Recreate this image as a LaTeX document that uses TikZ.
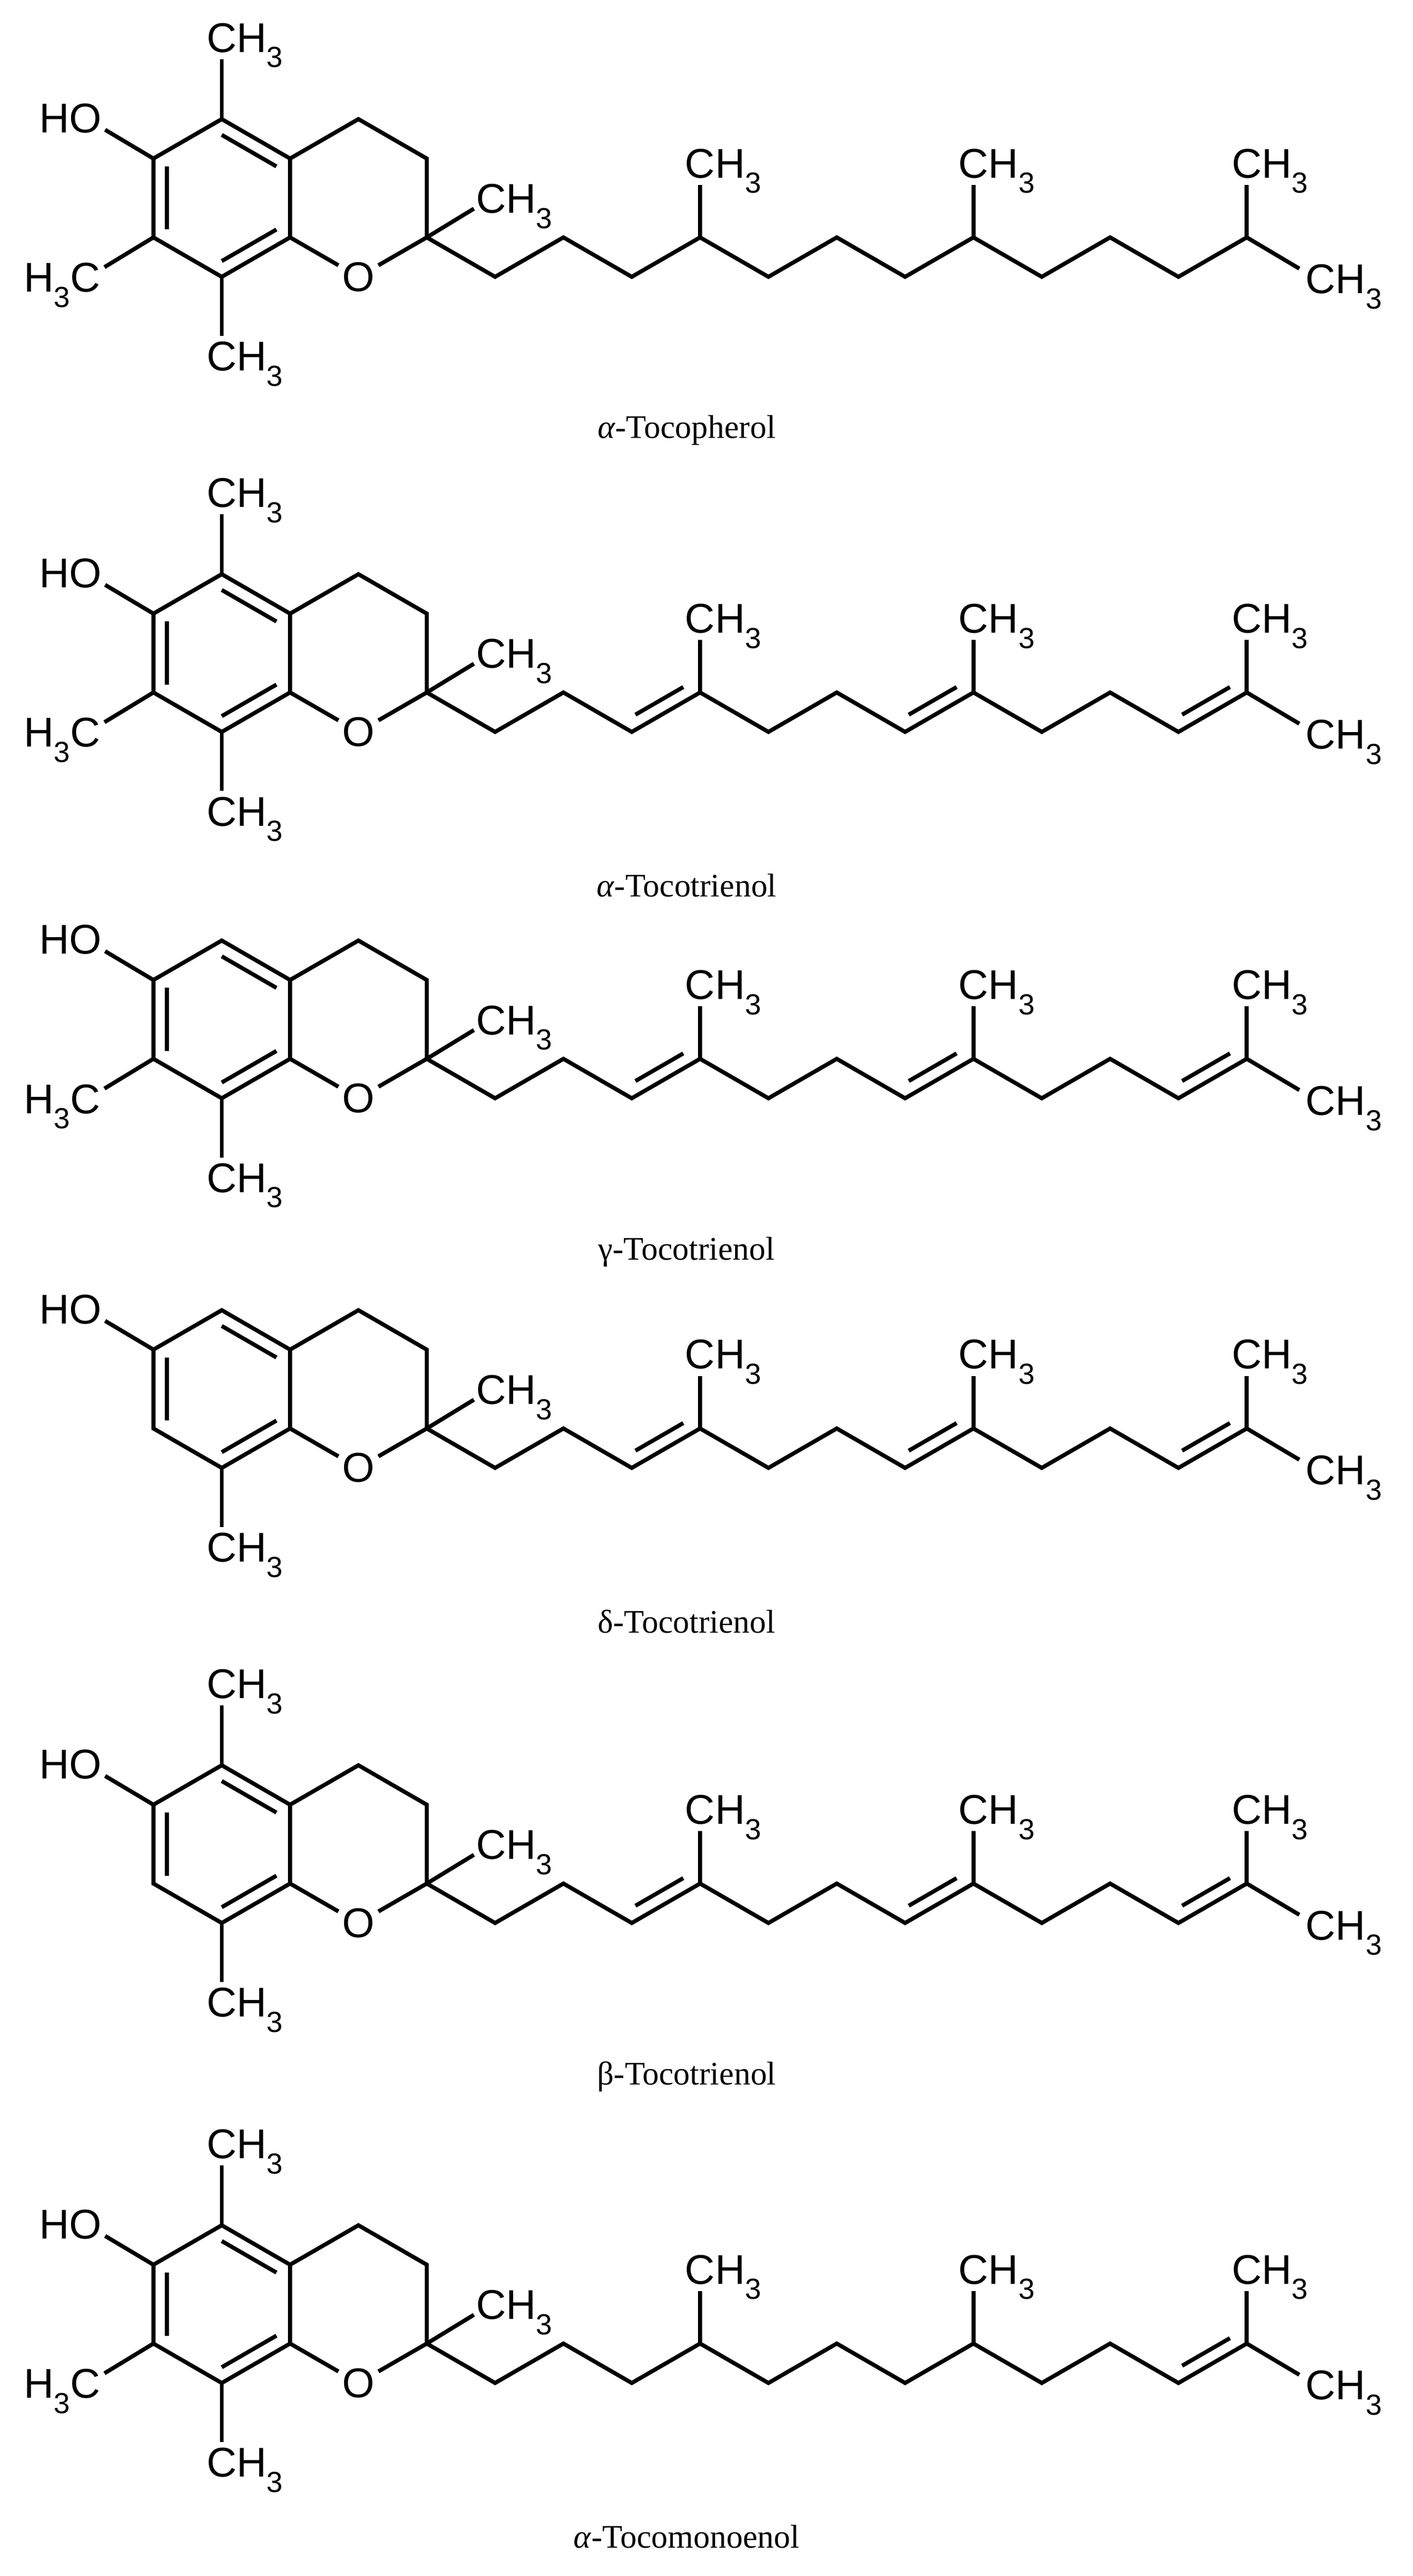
\documentclass[tikz,border=0pt]{standalone}
\usepackage{fontspec}
\setmainfont{Liberation Serif}
\newfontfamily\labfont{Liberation Sans}
\usetikzlibrary{calc}
\newcommand\CHc{\hphantom{H\textsubscript{3}}CH\smash{\textsubscript{3}}}
\newcommand\HCc{H\smash{\textsubscript{3}}C\hphantom{H\textsubscript{3}}}
\tikzset{
  bond/.style={line width=7pt, line join=miter, line cap=butt},
  atom/.style={font=\labfont\fontsize{72}{84}\selectfont, inner sep=0pt},
  oatom/.style={atom, circle, minimum size=2.8cm},
  capt/.style={font=\fontsize{57}{62}\selectfont, inner sep=0pt}
}
\newcommand\tocoring[1]{%
 \coordinate (ca#1) at (135,120.5);
 \coordinate (c5#1) at (135,72.5);
 \coordinate (c4a#1) at (176.6,96.5);
 \coordinate (c8a#1) at (176.6,144.5);
 \coordinate (c8#1) at (135,168.5);
 \coordinate (c7#1) at (93.4,144.5);
 \coordinate (c6#1) at (93.4,96.5);
 \coordinate (c4#1) at (218.2,72.5);
 \coordinate (c3#1) at (259.8,96.5);
 \coordinate (c2#1) at (259.8,144.5);
 \node[oatom] (o#1) at (218.2,168.5) {O};
 \draw[bond] (c6#1)--(c5#1)--(c4a#1)--(c8a#1)--(c8#1)--(c7#1)--cycle;
 \draw[bond] (c4a#1)--(c4#1)--(c3#1)--(c2#1);
 \draw[bond] (c8a#1)--(o#1);
 \draw[bond] (c2#1)--(o#1);
 \draw[bond] ($(ca#1)!0.8!(c5#1)$)--($(ca#1)!0.8!(c4a#1)$);
 \draw[bond] ($(ca#1)!0.8!(c6#1)$)--($(ca#1)!0.8!(c7#1)$);
 \draw[bond] ($(ca#1)!0.8!(c8#1)$)--($(ca#1)!0.8!(c8a#1)$);
 \node[atom, anchor=east] (ho#1) at (62,72) {HO};
 \coordinate (hoe#1) at (64,79);
 \draw[bond] (c6#1)--(hoe#1);
 \node[atom] (me2#1) at (299,121) {\CHc};
 \coordinate (me2e#1) at (288.5,127);
 \draw[bond] (c2#1)--(me2e#1);
 \foreach \i/\x/\y in {1/301.4/168.5,2/343/144.5,3/384.6/168.5,4/426.2/144.5,5/467.8/168.5,6/509.4/144.5,7/551/168.5,8/592.6/144.5,9/634.2/168.5,10/675.8/144.5,11/717.4/168.5,12/759/144.5}
   {\coordinate (p\i#1) at (\x,\y);}
 \draw[bond] (c2#1)--(p1#1)--(p2#1)--(p3#1)--(p4#1)--(p5#1)--(p6#1)--(p7#1)--(p8#1)--(p9#1)--(p10#1)--(p11#1)--(p12#1);
 \foreach \k in {4,8,12}{
   \node[atom] (bm\k#1) at ($(p\k#1)+(0,-45)$) {\CHc};
   \coordinate (bme\k#1) at ($(p\k#1)+(0,-32)$);
   \draw[bond] (p\k#1)--(bme\k#1);
 }
 \node[atom] (tm#1) at (804,170) {\CHc};
 \coordinate (tme#1) at (791,163.5);
 \draw[bond] (p12#1)--(tme#1);
}
\newcommand\topme[1]{\node[atom] (mt#1) at (135,23) {\CHc};
 \coordinate (mte#1) at (135,36); \draw[bond] (c5#1)--(mte#1);}
\newcommand\botme[1]{\node[atom] (mb#1) at (135,217) {\CHc};
 \coordinate (mbe#1) at (135,204.5); \draw[bond] (c8#1)--(mbe#1);}
\newcommand\leftme[1]{\node[atom] (ml#1) at (52,169) {\HCc};
 \coordinate (mle#1) at (63.6,162.6); \draw[bond] (c7#1)--(mle#1);}
\newcommand\dbl[2]{%
 \pgfmathtruncatemacro\nx{#2+1}%
 \draw[bond] ($(p#2#1)+(2.24,-10.5)$)--($(p\nx#1)+(-10.24,-3.3)$);}
\begin{document}
\begin{tikzpicture}[x=0.1cm,y=-0.1cm]
\useasboundingbox (0,0) rectangle (860,1568);
\begin{scope}
 \tocoring{a}\topme{a}\leftme{a}\botme{a}
 \node[capt] (ta) at (418,262) {\textit{α}-Tocopherol};
\end{scope}
\begin{scope}[shift={(0,277)}]
 \tocoring{b}\topme{b}\leftme{b}\botme{b}
 \dbl{b}{3}\dbl{b}{7}\dbl{b}{11}
 \node[capt] (tb) at (418,262) {\textit{α}-Tocotrienol};
\end{scope}
\begin{scope}[shift={(0,500)}]
 \tocoring{c}\leftme{c}\botme{c}
 \dbl{c}{3}\dbl{c}{7}\dbl{c}{11}
 \node[capt] (tc) at (418,262) {γ-Tocotrienol};
\end{scope}
\begin{scope}[shift={(0,725)}]
 \tocoring{d}\botme{d}
 \dbl{d}{3}\dbl{d}{7}\dbl{d}{11}
 \node[capt] (td) at (418,262) {δ-Tocotrienol};
\end{scope}
\begin{scope}[shift={(0,1002)}]
 \tocoring{e}\topme{e}\botme{e}
 \dbl{e}{3}\dbl{e}{7}\dbl{e}{11}
 \node[capt] (te) at (418,262) {β-Tocotrienol};
\end{scope}
\begin{scope}[shift={(0,1282)}]
 \tocoring{f}\topme{f}\leftme{f}\botme{f}
 \dbl{f}{11}
 \node[capt] (tf) at (418,262) {\textit{α}-Tocomonoenol};
\end{scope}
\end{tikzpicture}
\end{document}
